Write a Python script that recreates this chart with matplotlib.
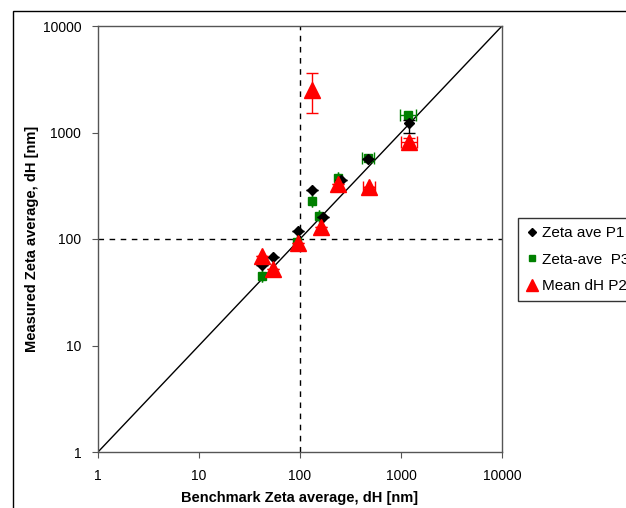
import matplotlib
matplotlib.use("Agg")
import matplotlib.pyplot as plt
from matplotlib.patches import Rectangle
from matplotlib.lines import Line2D

plt.rcParams['font.family'] = ['Liberation Sans', 'DejaVu Sans']

# Zeta ave P1 (black diamonds)
p1_x = [42, 54, 96, 131, 169, 255, 471, 1200]
p1_y = [57, 68, 119, 288, 161, 358, 564, 1228]
p1_ylo = [0, 0, 0, 0, 0, 0, 0, 238]
p1_yhi = [0, 0, 0, 0, 0, 0, 0, 80]

# Zeta-ave P3 (green squares)
p3_x = [42, 94, 131, 154, 238, 471, 1173]
p3_y = [45, 94, 227, 164, 374, 576, 1460]
p3_xlo = [0, 0, 0, 0, 0, 60, 190]
p3_xhi = [0, 0, 0, 0, 0, 70, 230]

# Mean dH P2 (red triangles)
p2_x = [42, 54, 96, 131, 161, 238, 482, 1200]
p2_y = [69, 52, 92, 2506, 130, 328, 308, 814]
p2_ylo = [0, 0, 0, 981, 0, 0, 0, 60]
p2_yhi = [0, 0, 0, 1114, 0, 0, 0, 80]
p2_xlo = [0, 0, 0, 0, 0, 0, 60, 190]
p2_xhi = [0, 0, 0, 0, 0, 0, 70, 230]

series_labels = ['Zeta ave P1', 'Zeta-ave  P3', 'Mean dH P2']

ticks = [1, 10, 100, 1000, 10000]
tick_labels = ['1', '10', '100', '1000', '10000']

fig = plt.figure(figsize=(6.26, 5.08), dpi=100)
ax = fig.add_axes([98/626, 1-452/508, (502-98)/626, (452-26)/508])

# outer frame
fig.patches.append(Rectangle((13/626, -0.1), 1.2, 1-11/508+0.1, transform=fig.transFigure,
                             fill=False, edgecolor='black', linewidth=1.0))

ax.plot([1, 10000], [1, 10000], color='black', linewidth=1.0, zorder=2)
ax.axvline(100, color='black', linestyle=(0, (4, 4)), linewidth=1.0, zorder=1)
ax.axhline(100, color='black', linestyle=(0, (4, 4)), linewidth=1.0, zorder=1)

ax.errorbar(p1_x, p1_y, yerr=[p1_ylo, p1_yhi], fmt='D', color='black', markersize=5,
            capsize=4, elinewidth=1, zorder=4)
ax.errorbar(p3_x, p3_y, xerr=[p3_xlo, p3_xhi], fmt='s', color='#008000', markersize=6,
            capsize=4, elinewidth=1, zorder=3)
ax.errorbar(p2_x, p2_y, xerr=[p2_xlo, p2_xhi], yerr=[p2_ylo, p2_yhi], fmt='^', color='#ff0000',
            markersize=11, capsize=4, elinewidth=1, zorder=5)

ax.set_xscale('log')
ax.set_yscale('log')
ax.set_xlim(1, 10000)
ax.set_ylim(1, 10000)
ax.set_xticks(ticks)
ax.set_xticklabels(tick_labels)
ax.set_yticks(ticks)
ax.set_yticklabels(tick_labels)
ax.minorticks_off()
ax.tick_params(axis='both', direction='out', length=4, labelsize=10, pad=8,
               color='#555555')
for s in ax.spines.values():
    s.set_color('#555555')
    s.set_linewidth(1.0)

ax.set_xlabel('Benchmark Zeta average, dH [nm]', fontsize=10.5, fontweight='bold', labelpad=6)
ax.set_ylabel('Measured Zeta average, dH [nm]', fontsize=10.5, fontweight='bold', labelpad=3)

handles = [
    Line2D([], [], linestyle='none', marker='D', color='black', markersize=4.5),
    Line2D([], [], linestyle='none', marker='s', color='#008000', markersize=5),
    Line2D([], [], linestyle='none', marker='^', color='#ff0000', markersize=8),
]
leg = ax.legend(handles, series_labels, loc='upper left', bbox_to_anchor=(518/626, 1-218/508),
                bbox_transform=fig.transFigure, fontsize=11, frameon=True, fancybox=False,
                edgecolor='black', handlelength=0.7, handletextpad=0.35, borderpad=0.55,
                labelspacing=0.8, borderaxespad=0)
leg.get_frame().set_linewidth(1.0)

fig.savefig('out.png', dpi=100)
